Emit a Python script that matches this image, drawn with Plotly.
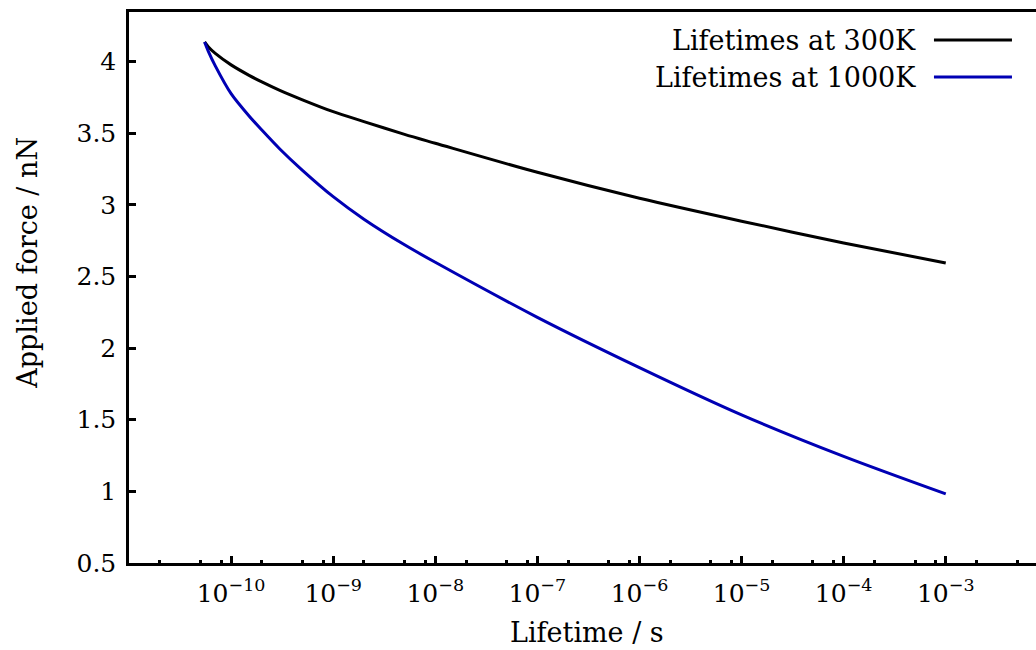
import plotly.graph_objects as go

# Lifetimes (s) and applied forces (nN)
t_300 = [5.5e-11, 6e-11, 7e-11, 1e-10, 1.5e-10, 2e-10, 3e-10, 5e-10, 1e-9, 2e-9, 5e-9,
         1e-8, 1e-7, 1e-6, 1e-5, 1e-4, 1e-3]
f_300 = [4.137, 4.102, 4.057, 3.977, 3.904, 3.858, 3.799, 3.733, 3.650, 3.581, 3.492,
         3.430, 3.227, 3.046, 2.886, 2.734, 2.594]

t_1000 = [5.5e-11, 6e-11, 7e-11, 1e-10, 1.5e-10, 2e-10, 3e-10, 5e-10, 1e-9, 2e-9, 5e-9,
          1e-8, 1e-7, 1e-6, 1e-5, 1e-4, 1e-3]
f_1000 = [4.137, 4.070, 3.970, 3.776, 3.620, 3.522, 3.390, 3.241, 3.057, 2.900, 2.721,
          2.599, 2.215, 1.864, 1.534, 1.244, 0.982]

series_names = ["Lifetimes at 300K", "Lifetimes at 1000K"]
series_colors = ["#000000", "#0000b4"]

x_major = [1e-10, 1e-9, 1e-8, 1e-7, 1e-6, 1e-5, 1e-4, 1e-3]
x_major_text = ["10<sup>\u221210</sup>", "10<sup>\u22129</sup>", "10<sup>\u22128</sup>", "10<sup>\u22127</sup>",
                "10<sup>\u22126</sup>", "10<sup>\u22125</sup>", "10<sup>\u22124</sup>", "10<sup>\u22123</sup>"]
x_minor = [m * 10.0 ** e for e in range(-11, -2) for m in (2, 5, 8)]
y_ticks = [0.5, 1, 1.5, 2, 2.5, 3, 3.5, 4]
y_ticktext = ["0.5", "1", "1.5", "2", "2.5", "3", "3.5", "4"]

FONT = "DejaVu Serif"
TICK_SIZE = 25
TEXT_SIZE = 27

fig = go.Figure()
for t, f, name, col in [(t_300, f_300, series_names[0], series_colors[0]),
                        (t_1000, f_1000, series_names[1], series_colors[1])]:
    fig.add_trace(go.Scatter(x=t, y=f, mode="lines", name=name,
                             line=dict(color=col, width=3, shape="spline", smoothing=0.8),
                             showlegend=False))

fig.update_layout(
    width=1036, height=650,
    margin=dict(l=129, r=0, t=12, b=87),
    paper_bgcolor="white", plot_bgcolor="white",
    font=dict(family=FONT, size=TICK_SIZE, color="black"),
    xaxis=dict(type="log", range=[-11, -2.116], showgrid=False, zeroline=False,
               showline=True, linecolor="black", linewidth=2.5, mirror=True,
               ticks="inside", ticklen=7, tickwidth=2.5, tickcolor="black",
               tickmode="array", tickvals=x_major, ticktext=x_major_text,
               tickfont=dict(family=FONT, size=TICK_SIZE),
               ticklabelstandoff=6,
               minor=dict(tickmode="array", tickvals=x_minor, ticks="inside",
                          ticklen=3, tickwidth=2.5, tickcolor="black", showgrid=False)),
    yaxis=dict(range=[0.5, 4.346], showgrid=False, zeroline=False,
               showline=True, linecolor="black", linewidth=2.5, mirror=False,
               ticks="inside", ticklen=7, tickwidth=2.5, tickcolor="black",
               tickmode="array", tickvals=y_ticks, ticktext=y_ticktext,
               tickfont=dict(family=FONT, size=TICK_SIZE),
               ticklabelstandoff=5),
)

# axis titles
fig.add_annotation(text="Lifetime / s", xref="paper", yref="paper", x=0.505, y=-0.127,
                   showarrow=False, xanchor="center", yanchor="middle",
                   font=dict(family=FONT, size=TEXT_SIZE))
fig.add_annotation(text="Applied force / nN", xref="paper", yref="paper", x=-0.1114, y=0.545,
                   showarrow=False, xanchor="center", yanchor="middle", textangle=-90,
                   font=dict(family=FONT, size=TEXT_SIZE))

# legend (text on the left, line sample on the right)
for i, (name, col) in enumerate(zip(series_names, series_colors)):
    yy = [0.949, 0.882][i]
    fig.add_annotation(text=name, xref="paper", yref="paper", x=0.870, y=yy,
                       showarrow=False, xanchor="right", yanchor="middle",
                       font=dict(family=FONT, size=TEXT_SIZE))
    fig.add_shape(type="line", xref="paper", yref="paper", x0=0.8875, x1=0.9735, y0=yy, y1=yy,
                  line=dict(color=col, width=3))

fig.write_html("out.html")
